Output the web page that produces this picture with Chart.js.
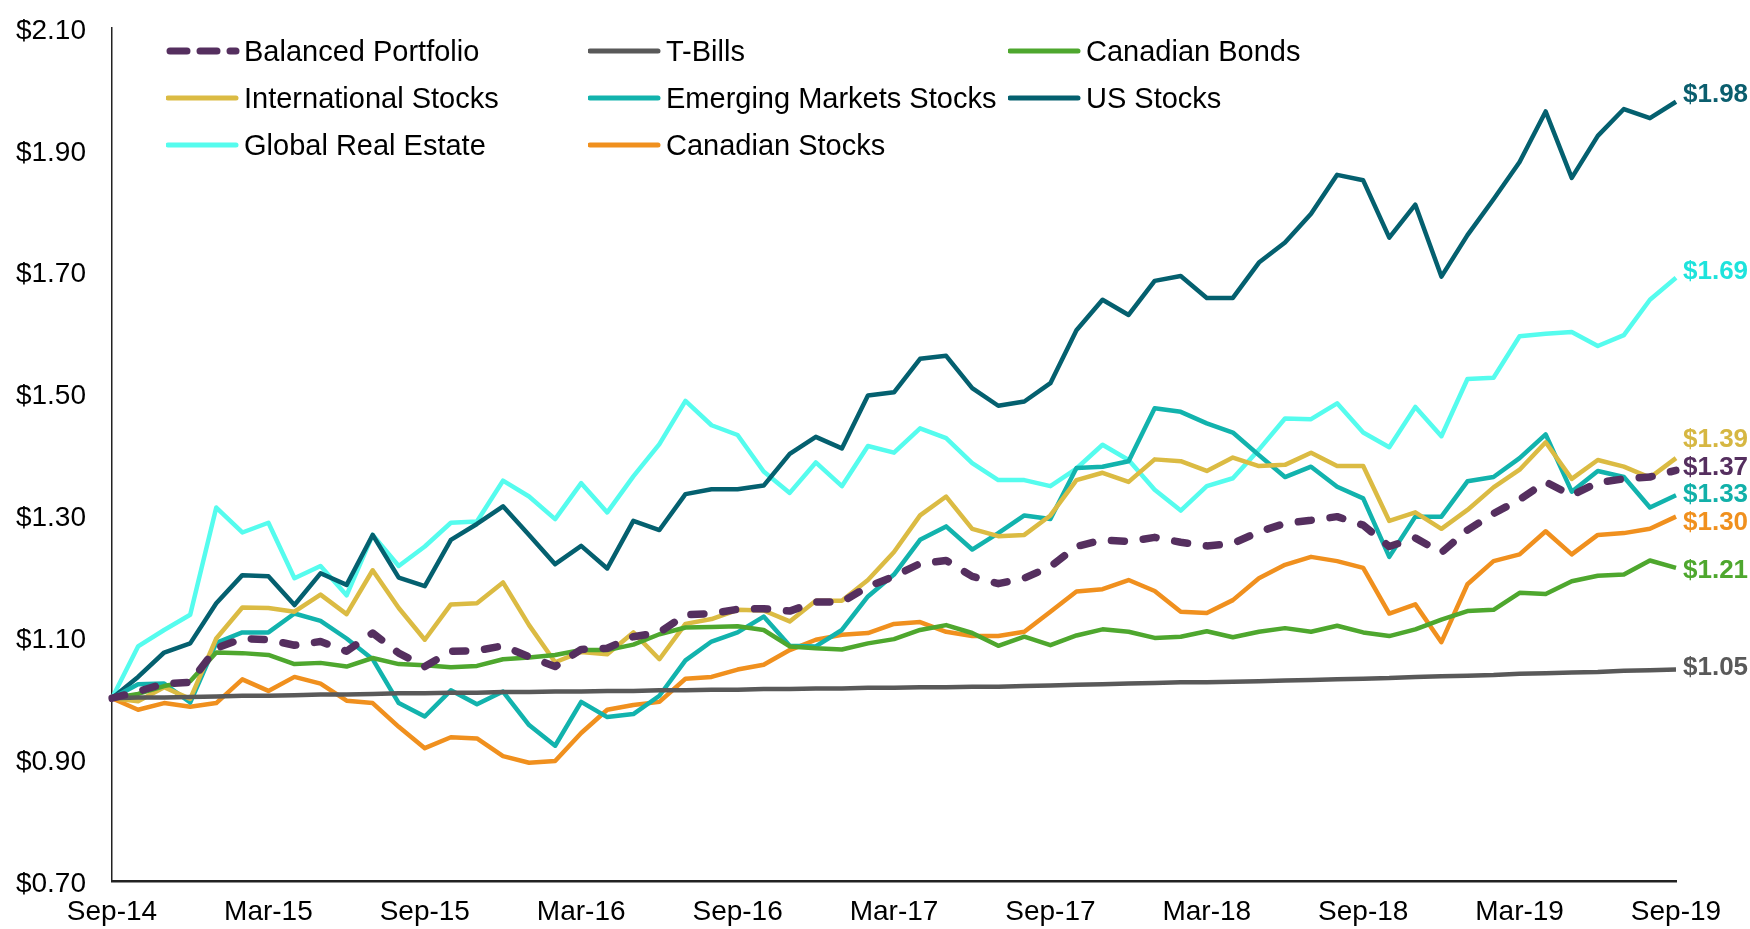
<!DOCTYPE html>
<html>
<head>
<meta charset="utf-8">
<script src="https://cdn.jsdelivr.net/npm/chart.js@4"></script>
<style>
  body { margin: 0; background: #fff; }
  #wrap { position: relative; width: 1750px; height: 929px; }
  .leg { position: absolute; height: 34px; display: flex; align-items: center;
         font: 29px "Liberation Sans", Arial, sans-serif; color: #000; white-space: nowrap; }
  .leg svg { margin-right: 4px; }
</style>
</head>
<body>
<div id="wrap">
  <canvas id="growthChart" width="1750" height="929"></canvas>
  <div id="legend"></div>
</div>
<script>
const months = [
  'Sep-14','Oct-14','Nov-14','Dec-14','Jan-15','Feb-15','Mar-15','Apr-15','May-15','Jun-15','Jul-15','Aug-15',
  'Sep-15','Oct-15','Nov-15','Dec-15','Jan-16','Feb-16','Mar-16','Apr-16','May-16','Jun-16','Jul-16','Aug-16',
  'Sep-16','Oct-16','Nov-16','Dec-16','Jan-17','Feb-17','Mar-17','Apr-17','May-17','Jun-17','Jul-17','Aug-17',
  'Sep-17','Oct-17','Nov-17','Dec-17','Jan-18','Feb-18','Mar-18','Apr-18','May-18','Jun-18','Jul-18','Aug-18',
  'Sep-18','Oct-18','Nov-18','Dec-18','Jan-19','Feb-19','Mar-19','Apr-19','May-19','Jun-19','Jul-19','Aug-19',
  'Sep-19'
];

const balancedPortfolio = [
  1.00, 1.011, 1.024, 1.026, 1.082, 1.098, 1.096, 1.087, 1.093, 1.077, 1.107, 1.074,
  1.052, 1.077, 1.078, 1.086, 1.068, 1.052, 1.080, 1.082, 1.101, 1.108, 1.137, 1.139,
  1.146, 1.147, 1.143, 1.158, 1.158, 1.183, 1.200, 1.221, 1.226, 1.200, 1.188, 1.197,
  1.216, 1.249, 1.260, 1.257, 1.264, 1.256, 1.250, 1.254, 1.273, 1.287, 1.292, 1.298,
  1.284, 1.249, 1.263, 1.239, 1.276, 1.303, 1.326, 1.355, 1.333, 1.354, 1.360, 1.363,
  1.374
];
const tBills = [
  1.000, 1.001, 1.001, 1.002, 1.003, 1.004, 1.004, 1.005, 1.006, 1.006, 1.007, 1.008,
  1.008, 1.009, 1.009, 1.010, 1.010, 1.011, 1.011, 1.012, 1.012, 1.013, 1.013, 1.014,
  1.014, 1.015, 1.015, 1.016, 1.016, 1.017, 1.017, 1.018, 1.018, 1.019, 1.019, 1.020,
  1.021, 1.022, 1.023, 1.024, 1.025, 1.026, 1.026, 1.027, 1.028, 1.029, 1.030, 1.031,
  1.032, 1.033, 1.035, 1.036, 1.037, 1.038, 1.040, 1.041, 1.042, 1.043, 1.045, 1.046,
  1.047
];
const canadianBonds = [
  1.00, 1.007, 1.020, 1.028, 1.075, 1.074, 1.071, 1.056, 1.058, 1.052, 1.066, 1.056,
  1.054, 1.051, 1.053, 1.064, 1.067, 1.071, 1.079, 1.079, 1.088, 1.105, 1.116, 1.117,
  1.118, 1.112, 1.085, 1.082, 1.080, 1.090, 1.097, 1.112, 1.120, 1.107, 1.086, 1.101,
  1.087, 1.103, 1.113, 1.109, 1.099, 1.101, 1.110, 1.100, 1.109, 1.115, 1.109, 1.119,
  1.108, 1.102, 1.113, 1.129, 1.143, 1.145, 1.173, 1.171, 1.192, 1.201, 1.203, 1.226,
  1.214
];
const internationalStocks = [
  1.00, 0.995, 1.018, 0.999, 1.098, 1.149, 1.148, 1.142, 1.170, 1.138, 1.210, 1.148,
  1.096, 1.154, 1.156, 1.190, 1.120, 1.059, 1.076, 1.072, 1.108, 1.064, 1.122, 1.130,
  1.145, 1.144, 1.126, 1.160, 1.160, 1.194, 1.240, 1.300, 1.331, 1.278, 1.266, 1.268,
  1.300, 1.358, 1.370, 1.355, 1.392, 1.389, 1.373, 1.395, 1.381, 1.383, 1.403, 1.381,
  1.381, 1.291, 1.305, 1.278, 1.309, 1.346, 1.375, 1.420, 1.360, 1.391, 1.380, 1.362,
  1.394
];
const emergingMarkets = [
  1.00, 1.023, 1.024, 0.993, 1.091, 1.108, 1.108, 1.139, 1.127, 1.098, 1.064, 0.992,
  0.970, 1.013, 0.990, 1.011, 0.956, 0.922, 0.994, 0.969, 0.974, 1.004, 1.062, 1.093,
  1.108, 1.134, 1.086, 1.085, 1.112, 1.167, 1.203, 1.260, 1.282, 1.244, 1.271, 1.300,
  1.294, 1.378, 1.380, 1.389, 1.476, 1.470, 1.451, 1.436, 1.399, 1.363, 1.380, 1.347,
  1.328, 1.232, 1.298, 1.298, 1.356, 1.363, 1.394, 1.433, 1.339, 1.373, 1.363, 1.313,
  1.333
];
const usStocks = [
  1.00, 1.035, 1.075, 1.090, 1.156, 1.202, 1.200, 1.153, 1.205, 1.186, 1.268, 1.198,
  1.184, 1.260, 1.286, 1.315, 1.268, 1.220, 1.250, 1.213, 1.291, 1.276, 1.335, 1.343,
  1.343, 1.349, 1.401, 1.429, 1.410, 1.497, 1.502, 1.557, 1.562, 1.509, 1.480, 1.487,
  1.517, 1.604, 1.654, 1.629, 1.685, 1.693, 1.657, 1.657, 1.715, 1.748, 1.795, 1.859,
  1.850, 1.756, 1.810, 1.692, 1.760, 1.819, 1.880, 1.963, 1.854, 1.923, 1.967, 1.952,
  1.979
];
const globalRealEstate = [
  1.00, 1.085, 1.112, 1.137, 1.313, 1.272, 1.288, 1.197, 1.217, 1.169, 1.268, 1.217,
  1.249, 1.288, 1.290, 1.357, 1.331, 1.294, 1.353, 1.305, 1.364, 1.417, 1.488, 1.448,
  1.432, 1.372, 1.337, 1.387, 1.348, 1.414, 1.403, 1.443, 1.427, 1.386, 1.358, 1.358,
  1.348, 1.377, 1.416, 1.391, 1.342, 1.308, 1.348, 1.361, 1.408, 1.459, 1.458, 1.484,
  1.436, 1.412, 1.478, 1.430, 1.524, 1.526, 1.594, 1.598, 1.601, 1.578, 1.596, 1.654,
  1.690
];
const canadianStocks = [
  1.00, 0.981, 0.992, 0.986, 0.992, 1.031, 1.012, 1.035, 1.024, 0.996, 0.992, 0.953,
  0.918, 0.936, 0.934, 0.905, 0.894, 0.897, 0.943, 0.981, 0.989, 0.994, 1.032, 1.035,
  1.047, 1.055, 1.079, 1.096, 1.104, 1.107, 1.122, 1.125, 1.109, 1.102, 1.102, 1.109,
  1.142, 1.175, 1.179, 1.194, 1.176, 1.142, 1.140, 1.161, 1.197, 1.219, 1.232, 1.225,
  1.214, 1.139, 1.154, 1.092, 1.187, 1.225, 1.236, 1.274, 1.236, 1.268, 1.271, 1.278,
  1.298
];

const FONT = '"Liberation Sans", Arial, sans-serif';

// series in legend order: [label, data, line colour, end-label colour, width, dashed]
const series = [
  ['Balanced Portfolio', balancedPortfolio, '#552f5f', '#552f5f', 7.5, true],
  ['T-Bills', tBills, '#595959', '#595959', 4.5, false],
  ['Canadian Bonds', canadianBonds, '#4ea72e', '#4ea72e', 4.5, false],
  ['International Stocks', internationalStocks, '#dbbb43', '#d6b742', 4.5, false],
  ['Emerging Markets Stocks', emergingMarkets, '#12b3ad', '#12b0a9', 4.5, false],
  ['US Stocks', usStocks, '#04606f', '#0b5e6e', 4.5, false],
  ['Global Real Estate', globalRealEstate, '#55fcee', '#1ee3dc', 4.5, false],
  ['Canadian Stocks', canadianStocks, '#f0901e', '#f0901e', 4.5, false],
];

// vertical nudges so the end labels don't collide
const labelNudge = {
  'US Stocks': -7, 'Global Real Estate': -6, 'International Stocks': -18,
  'Balanced Portfolio': -3, 'Emerging Markets Stocks': 0, 'Canadian Stocks': 6,
  'Canadian Bonds': 3, 'T-Bills': -2
};

const datasets = series.map(([label, data, color, labelColor, width, dashed]) => ({
  label: label,
  data: data,
  borderColor: color,
  backgroundColor: color,
  labelColor: labelColor,
  borderWidth: width,
  borderDash: dashed ? [13, 19] : [],
  borderCapStyle: dashed ? 'round' : 'butt',
  borderJoinStyle: 'round',
  pointRadius: 0,
  tension: 0,
  fill: false
}));

const endLabels = {
  id: 'endLabels',
  afterDatasetsDraw(chart) {
    const ctx = chart.ctx;
    ctx.save();
    ctx.font = 'bold 26px ' + FONT;
    ctx.textBaseline = 'middle';
    ctx.textAlign = 'left';
    chart.data.datasets.forEach((ds, i) => {
      const pts = chart.getDatasetMeta(i).data;
      const last = pts[pts.length - 1];
      const val = ds.data[ds.data.length - 1];
      ctx.fillStyle = ds.labelColor;
      ctx.fillText('$' + val.toFixed(2), last.x + 7, last.y + (labelNudge[ds.label] || 0));
    });
    ctx.restore();
  }
};

new Chart(document.getElementById('growthChart'), {
  type: 'line',
  data: { labels: months, datasets: datasets },
  options: {
    responsive: false,
    animation: false,
    layout: { padding: { top: 28, right: 74, left: 0, bottom: 0 } },
    plugins: {
      legend: { display: false },
      tooltip: { enabled: false }
    },
    scales: {
      x: {
        grid: { display: false, drawTicks: false },
        border: { display: true, color: '#222', width: 2.5 },
        ticks: {
          autoSkip: false, maxRotation: 0, minRotation: 0, padding: 14,
          color: '#000', font: { family: FONT, size: 28 },
          callback: (v, i) => (i % 6 === 0 ? months[i] : '')
        },
        afterFit: (scale) => { scale.height = 48; }
      },
      y: {
        min: 0.7, max: 2.1,
        grid: { display: false, drawTicks: false },
        border: { display: true, color: '#222', width: 1.5 },
        ticks: {
          stepSize: 0.2, padding: 26, labelOffset: 3,
          color: '#000', font: { family: FONT, size: 28 },
          callback: (v) => '$' + v.toFixed(2)
        },
        afterFit: (scale) => {
          scale.width = 112;
          scale.paddingTop = 0;
          scale.paddingBottom = 0;
        }
      }
    }
  },
  plugins: [endLabels]
});

// legend: 3 columns, drawn as html on top of the chart
const legendCols = [170, 592, 1012];
const legendRows = [51, 98, 145];
const legendEl = document.getElementById('legend');
series.forEach(([label, , color, , , dashed], i) => {
  const item = document.createElement('div');
  item.className = 'leg';
  item.style.left = (legendCols[i % 3] - 4) + 'px';
  item.style.top = (legendRows[Math.floor(i / 3)] - 17) + 'px';
  const stroke = dashed
    ? `<line x1="4" y1="10" x2="70" y2="10" stroke="${color}" stroke-width="7" stroke-linecap="round" stroke-dasharray="17 13"/>`
    : `<line x1="2" y1="10" x2="70" y2="10" stroke="${color}" stroke-width="5" stroke-linecap="round"/>`;
  item.innerHTML = `<svg width="74" height="20">${stroke}</svg><span>${label}</span>`;
  legendEl.appendChild(item);
});
</script>
</body>
</html>
